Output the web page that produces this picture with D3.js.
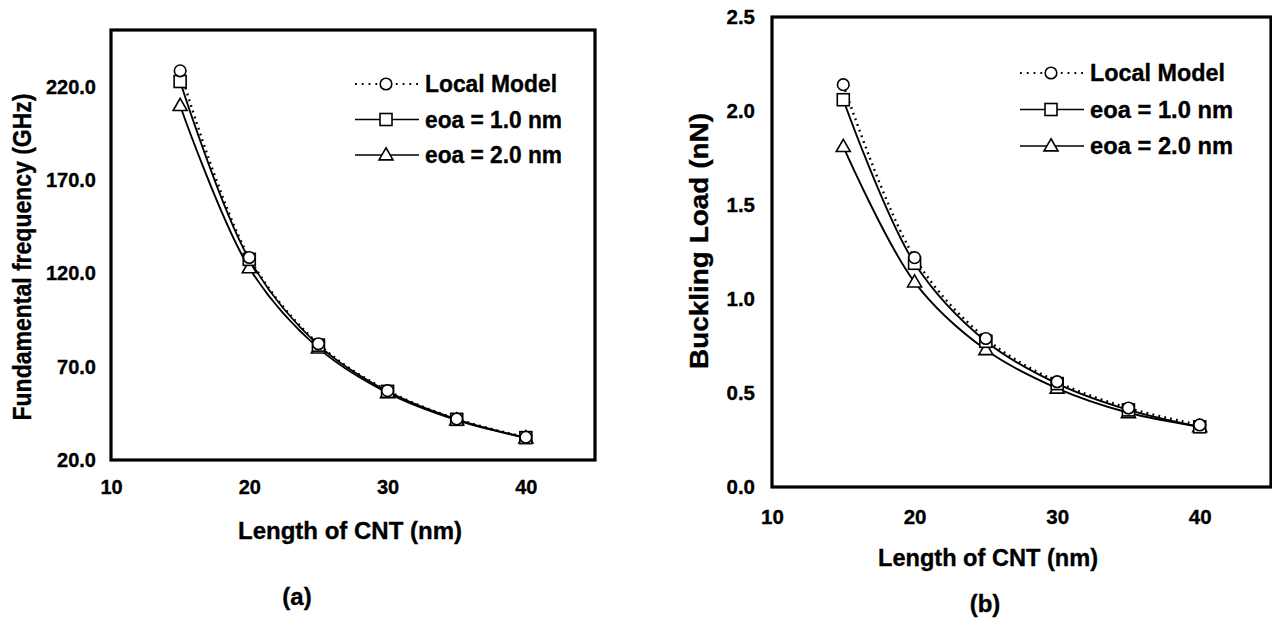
<!DOCTYPE html>
<html>
<head>
<meta charset="utf-8">
<script src="https://cdn.jsdelivr.net/npm/d3@7"></script>
<style>
  html, body { margin: 0; padding: 0; background: #fff; }
  svg { display: block; }
  text { font-family: "Liberation Sans", Arial, sans-serif; font-weight: bold; fill: #000; stroke: #000; stroke-width: 0.35px; }
</style>
</head>
<body>
<svg id="fig" width="1272" height="623"></svg>
<script>
// CNT length (nm) at which each model was evaluated
const lengths = [15, 20, 25, 30, 35, 40];

// Fundamental frequency (GHz)
const freqLocal = [228.7, 128.6, 82.3, 57.2, 42.0, 32.2];
const freqEoa1  = [223.0, 127.6, 81.6, 56.8, 41.8, 32.0];
const freqEoa2  = [210.0, 123.0, 80.0, 56.0, 41.4, 31.8];

// Buckling load (nN)
const loadLocal = [2.14, 1.22, 0.79, 0.56, 0.42, 0.33];
const loadEoa1  = [2.06, 1.19, 0.775, 0.55, 0.41, 0.32];
const loadEoa2  = [1.81, 1.09, 0.73, 0.525, 0.395, 0.32];

// Axis ticks
const xTicks = [10, 20, 30, 40];
const freqTicks = [20, 70, 120, 170, 220];
const loadTicks = [0, 0.5, 1.0, 1.5, 2.0, 2.5];

// Series names
const seriesNames = ["Local Model", "eoa = 1.0 nm", "eoa = 2.0 nm"];

const svg = d3.select("#fig");

function marker(g, shape, cx, cy) {
  if (shape === "circle") {
    g.append("circle").attr("cx", cx).attr("cy", cy).attr("r", 5.8)
      .attr("fill", "#fff").attr("stroke", "#000").attr("stroke-width", 1.6);
  } else if (shape === "square") {
    g.append("rect").attr("x", cx - 6).attr("y", cy - 6).attr("width", 12).attr("height", 12)
      .attr("fill", "#fff").attr("stroke", "#000").attr("stroke-width", 1.6);
  } else {
    const s = 14, h = s * Math.sqrt(3) / 2;
    g.append("path")
      .attr("d", `M${cx},${cy - h * 0.6}L${cx + s / 2},${cy + h * 0.4}L${cx - s / 2},${cy + h * 0.4}Z`)
      .attr("fill", "#fff").attr("stroke", "#000").attr("stroke-width", 1.6);
  }
}

// bold label fitted to a given width
function label(g, txt, size, len) {
  const t = g.append("text").style("font-size", size + "px").text(txt);
  if (len) t.attr("textLength", len).attr("lengthAdjust", "spacingAndGlyphs");
  return t;
}

function panel(cfg) {
  const x = d3.scaleLinear().domain([10, 45]).range([cfg.left, cfg.right]);
  const y = d3.scaleLinear().domain(cfg.yDomain).range([cfg.bottom, cfg.top]);
  const g = svg.append("g");

  const series = [
    { values: cfg.series[0], shape: "circle", dash: "1.8,4.2", width: 2.4 },
    { values: cfg.series[1], shape: "square", dash: null, width: 1.9 },
    { values: cfg.series[2], shape: "triangle", dash: null, width: 1.9 }
  ];

  const line = d3.line()
    .x((d, i) => x(lengths[i]))
    .y(d => y(d))
    .curve(d3.curveCatmullRom.alpha(0.5));

  // curves first, markers on top
  series.slice().reverse().forEach(s => {
    g.append("path").datum(s.values)
      .attr("d", line)
      .attr("fill", "none")
      .attr("stroke", "#000")
      .attr("stroke-width", s.width)
      .attr("stroke-dasharray", s.dash);
  });
  series.slice().reverse().forEach(s => {
    s.values.forEach((v, i) => marker(g, s.shape, x(lengths[i]), y(v)));
  });

  // plot frame
  g.append("rect")
    .attr("x", cfg.left).attr("y", cfg.top)
    .attr("width", cfg.right - cfg.left).attr("height", cfg.bottom - cfg.top)
    .attr("fill", "none").attr("stroke", "#000").attr("stroke-width", 3.2);

  // axes (labels only)
  const ya = g.append("g").attr("transform", `translate(${cfg.left},0)`)
    .call(d3.axisLeft(y).tickValues(cfg.yTicks).tickFormat(d3.format(".1f"))
      .tickSize(0).tickPadding(cfg.yPad));
  const xa = g.append("g").attr("transform", `translate(0,${cfg.bottom})`)
    .call(d3.axisBottom(x).tickValues(xTicks).tickFormat(d3.format("d"))
      .tickSize(0).tickPadding(cfg.xPad));
  [ya, xa].forEach(a => {
    a.select(".domain").remove();
    a.selectAll("text")
      .style("font-size", cfg.tickSize + "px")
      .style("font-family", "'Liberation Sans', Arial, sans-serif")
      .style("font-weight", "bold")
      .attr("stroke", "#000").attr("stroke-width", 0.35);
  });

  // axis titles
  label(g, cfg.yTitle, 25, cfg.yTitleLen)
    .attr("transform", `translate(${cfg.yTitleX},${cfg.yTitleY}) rotate(-90)`)
    .attr("text-anchor", "middle").attr("dominant-baseline", "central");
  label(g, "Length of CNT (nm)", 24, cfg.xTitleLen)
    .attr("x", cfg.xTitleX).attr("y", cfg.xTitleY)
    .attr("text-anchor", "middle").attr("dominant-baseline", "central");
  label(g, cfg.caption, 24)
    .attr("x", cfg.capX).attr("y", cfg.capY)
    .attr("text-anchor", "middle").attr("dominant-baseline", "central");

  // legend
  const lg = g.append("g");
  series.forEach((s, i) => {
    const ly = cfg.legY + i * cfg.legStep;
    lg.append("line")
      .attr("x1", cfg.legX).attr("x2", cfg.legX + 64)
      .attr("y1", ly).attr("y2", ly)
      .attr("stroke", "#000").attr("stroke-width", s.dash ? 2.2 : 1.6)
      .attr("stroke-dasharray", s.dash ? "1.8,5" : null);
    marker(lg, s.shape, cfg.legX + 31, ly);
    label(lg, seriesNames[i], 23.5, cfg.legLens[i])
      .attr("x", cfg.legX + 70).attr("y", ly)
      .attr("dominant-baseline", "central");
  });
}

panel({
  left: 111, right: 595, top: 30, bottom: 460,
  yDomain: [20, 250.6], yTicks: freqTicks, yPad: 15, xPad: 20, tickSize: 20,
  series: [freqLocal, freqEoa1, freqEoa2],
  yTitle: "Fundamental frequency (GHz)", yTitleX: 22, yTitleY: 257, yTitleLen: 327,
  xTitleX: 350, xTitleY: 530, xTitleLen: 224,
  caption: "(a)", capX: 297, capY: 596,
  legX: 355, legY: 84, legStep: 35.5, legLens: [132, 137, 137]
});

panel({
  left: 772, right: 1271, top: 17, bottom: 487,
  yDomain: [0, 2.5], yTicks: loadTicks, yPad: 17, xPad: 22, tickSize: 20.5,
  series: [loadLocal, loadEoa1, loadEoa2],
  yTitle: "Buckling Load (nN)", yTitleX: 699, yTitleY: 241, yTitleLen: 256,
  xTitleX: 988, xTitleY: 557, xTitleLen: 220,
  caption: "(b)", capX: 985, capY: 603,
  legX: 1020, legY: 73, legStep: 36.5, legLens: [135, 143, 143]
});
</script>
</body>
</html>
